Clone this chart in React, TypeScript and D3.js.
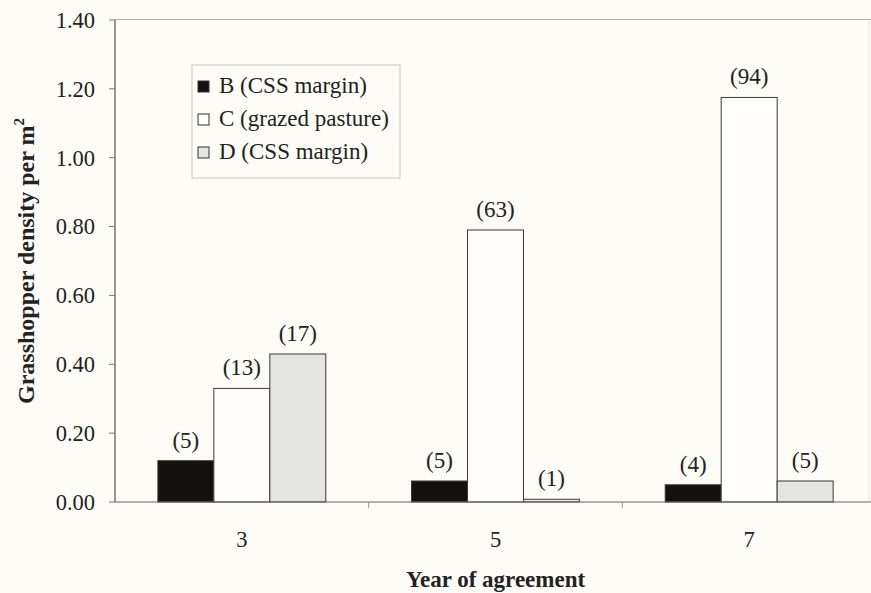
import React from "react";
import * as d3 from "d3";

const years = ["3", "5", "7"];
const seriesNames = ["B (CSS margin)", "C (grazed pasture)", "D (CSS margin)"];
const seriesB = [0.12, 0.061, 0.05];
const seriesC = [0.33, 0.79, 1.175];
const seriesD = [0.43, 0.008, 0.061];
const countsB = ["(5)", "(5)", "(4)"];
const countsC = ["(13)", "(63)", "(94)"];
const countsD = ["(17)", "(1)", "(5)"];
const yTicks = [0, 0.2, 0.4, 0.6, 0.8, 1.0, 1.2, 1.4];

const W = 871;
const H = 593;
const left = 115;
const right = 876;
const top = 20;
const bottom = 502;
const fills = ["#141210", "#fffefb", "#e4e4e2"];
const font = "Liberation Serif, Times New Roman, serif";

export default function App() {
  const x0 = d3.scaleBand<string>().domain(years).range([left, right]);
  const groupFrac = 0.662;
  const bw0 = x0.bandwidth();
  const x1 = d3
    .scaleBand<number>()
    .domain([0, 1, 2])
    .range([(bw0 * (1 - groupFrac)) / 2, (bw0 * (1 + groupFrac)) / 2]);
  const y = d3.scaleLinear().domain([0, 1.4]).range([bottom, top]);
  const series = [seriesB, seriesC, seriesD];
  const counts = [countsB, countsC, countsD];

  const legendX = 192;
  const legendY = 65;
  const legendRow = 33;

  return (
    <svg
      width={W}
      height={H}
      style={{ position: "absolute", left: 0, top: 0, background: "#fdfcf6" }}
      fontFamily={font}
    >
      <rect x={0} y={0} width={W} height={H} fill="#fdfcf6" />
      <line x1={left} x2={W} y1={top - 0.5} y2={top - 0.5} stroke="#b0b0ab" strokeWidth={1} />
      <line x1={869} x2={869} y1={top} y2={bottom} stroke="#e6e6e0" strokeWidth={1} />

      {years.map((yr, i) => (
        <g key={yr} transform={`translate(${x0(yr)},0)`}>
          {series.map((s, j) => (
            <g key={j}>
              <rect
                x={x1(j)}
                y={y(s[i])}
                width={x1.bandwidth()}
                height={bottom - y(s[i])}
                fill={fills[j]}
                stroke="#3a3a38"
                strokeWidth={1}
              />
              <text
                x={(x1(j) as number) + x1.bandwidth() / 2}
                y={y(s[i]) - 13}
                textAnchor="middle"
                fontSize={23}
                fill="#222"
              >
                {counts[j][i]}
              </text>
            </g>
          ))}
        </g>
      ))}

      <line x1={left} x2={left} y1={top} y2={bottom} stroke="#555" strokeWidth={1.2} />
      {yTicks.map((t) => (
        <g key={t}>
          <line x1={left - 6} x2={left} y1={y(t)} y2={y(t)} stroke="#777" strokeWidth={1} />
          <text x={95} y={y(t)} dy="0.35em" textAnchor="end" fontSize={22.5} fill="#222">
            {t.toFixed(2)}
          </text>
        </g>
      ))}

      <line x1={left} x2={W} y1={bottom} y2={bottom} stroke="#666" strokeWidth={1.2} />
      {years.slice(1).map((yr) => (
        <line
          key={yr}
          x1={x0(yr)}
          x2={x0(yr)}
          y1={bottom}
          y2={bottom + 6}
          stroke="#999"
          strokeWidth={1}
        />
      ))}
      {years.map((yr) => (
        <text
          key={yr}
          x={(x0(yr) as number) + bw0 / 2}
          y={547}
          textAnchor="middle"
          fontSize={22.5}
          fill="#222"
        >
          {yr}
        </text>
      ))}

      <text
        x={(left + right) / 2}
        y={587}
        textAnchor="middle"
        fontSize={23}
        fontWeight="bold"
        fill="#222"
      >
        Year of agreement
      </text>
      <text
        transform={`translate(34, ${(top + bottom) / 2}) rotate(-90)`}
        textAnchor="middle"
        fontSize={24}
        fontWeight="bold"
        fill="#222"
      >
        Grasshopper density per m
        <tspan dy={-10} fontSize={15}>
          2
        </tspan>
      </text>

      <rect
        x={legendX}
        y={legendY}
        width={208}
        height={113}
        fill="#fdfcf6"
        stroke="#c8c8c2"
        strokeWidth={1}
      />
      {seriesNames.map((name, j) => (
        <g key={name} transform={`translate(${legendX + 6}, ${legendY + 28 + j * legendRow})`}>
          <rect x={0} y={-12} width={11} height={11} fill={fills[j]} stroke="#333" strokeWidth={1} />
          <text x={21} y={0} fontSize={23} fill="#222">
            {name}
          </text>
        </g>
      ))}
    </svg>
  );
}
